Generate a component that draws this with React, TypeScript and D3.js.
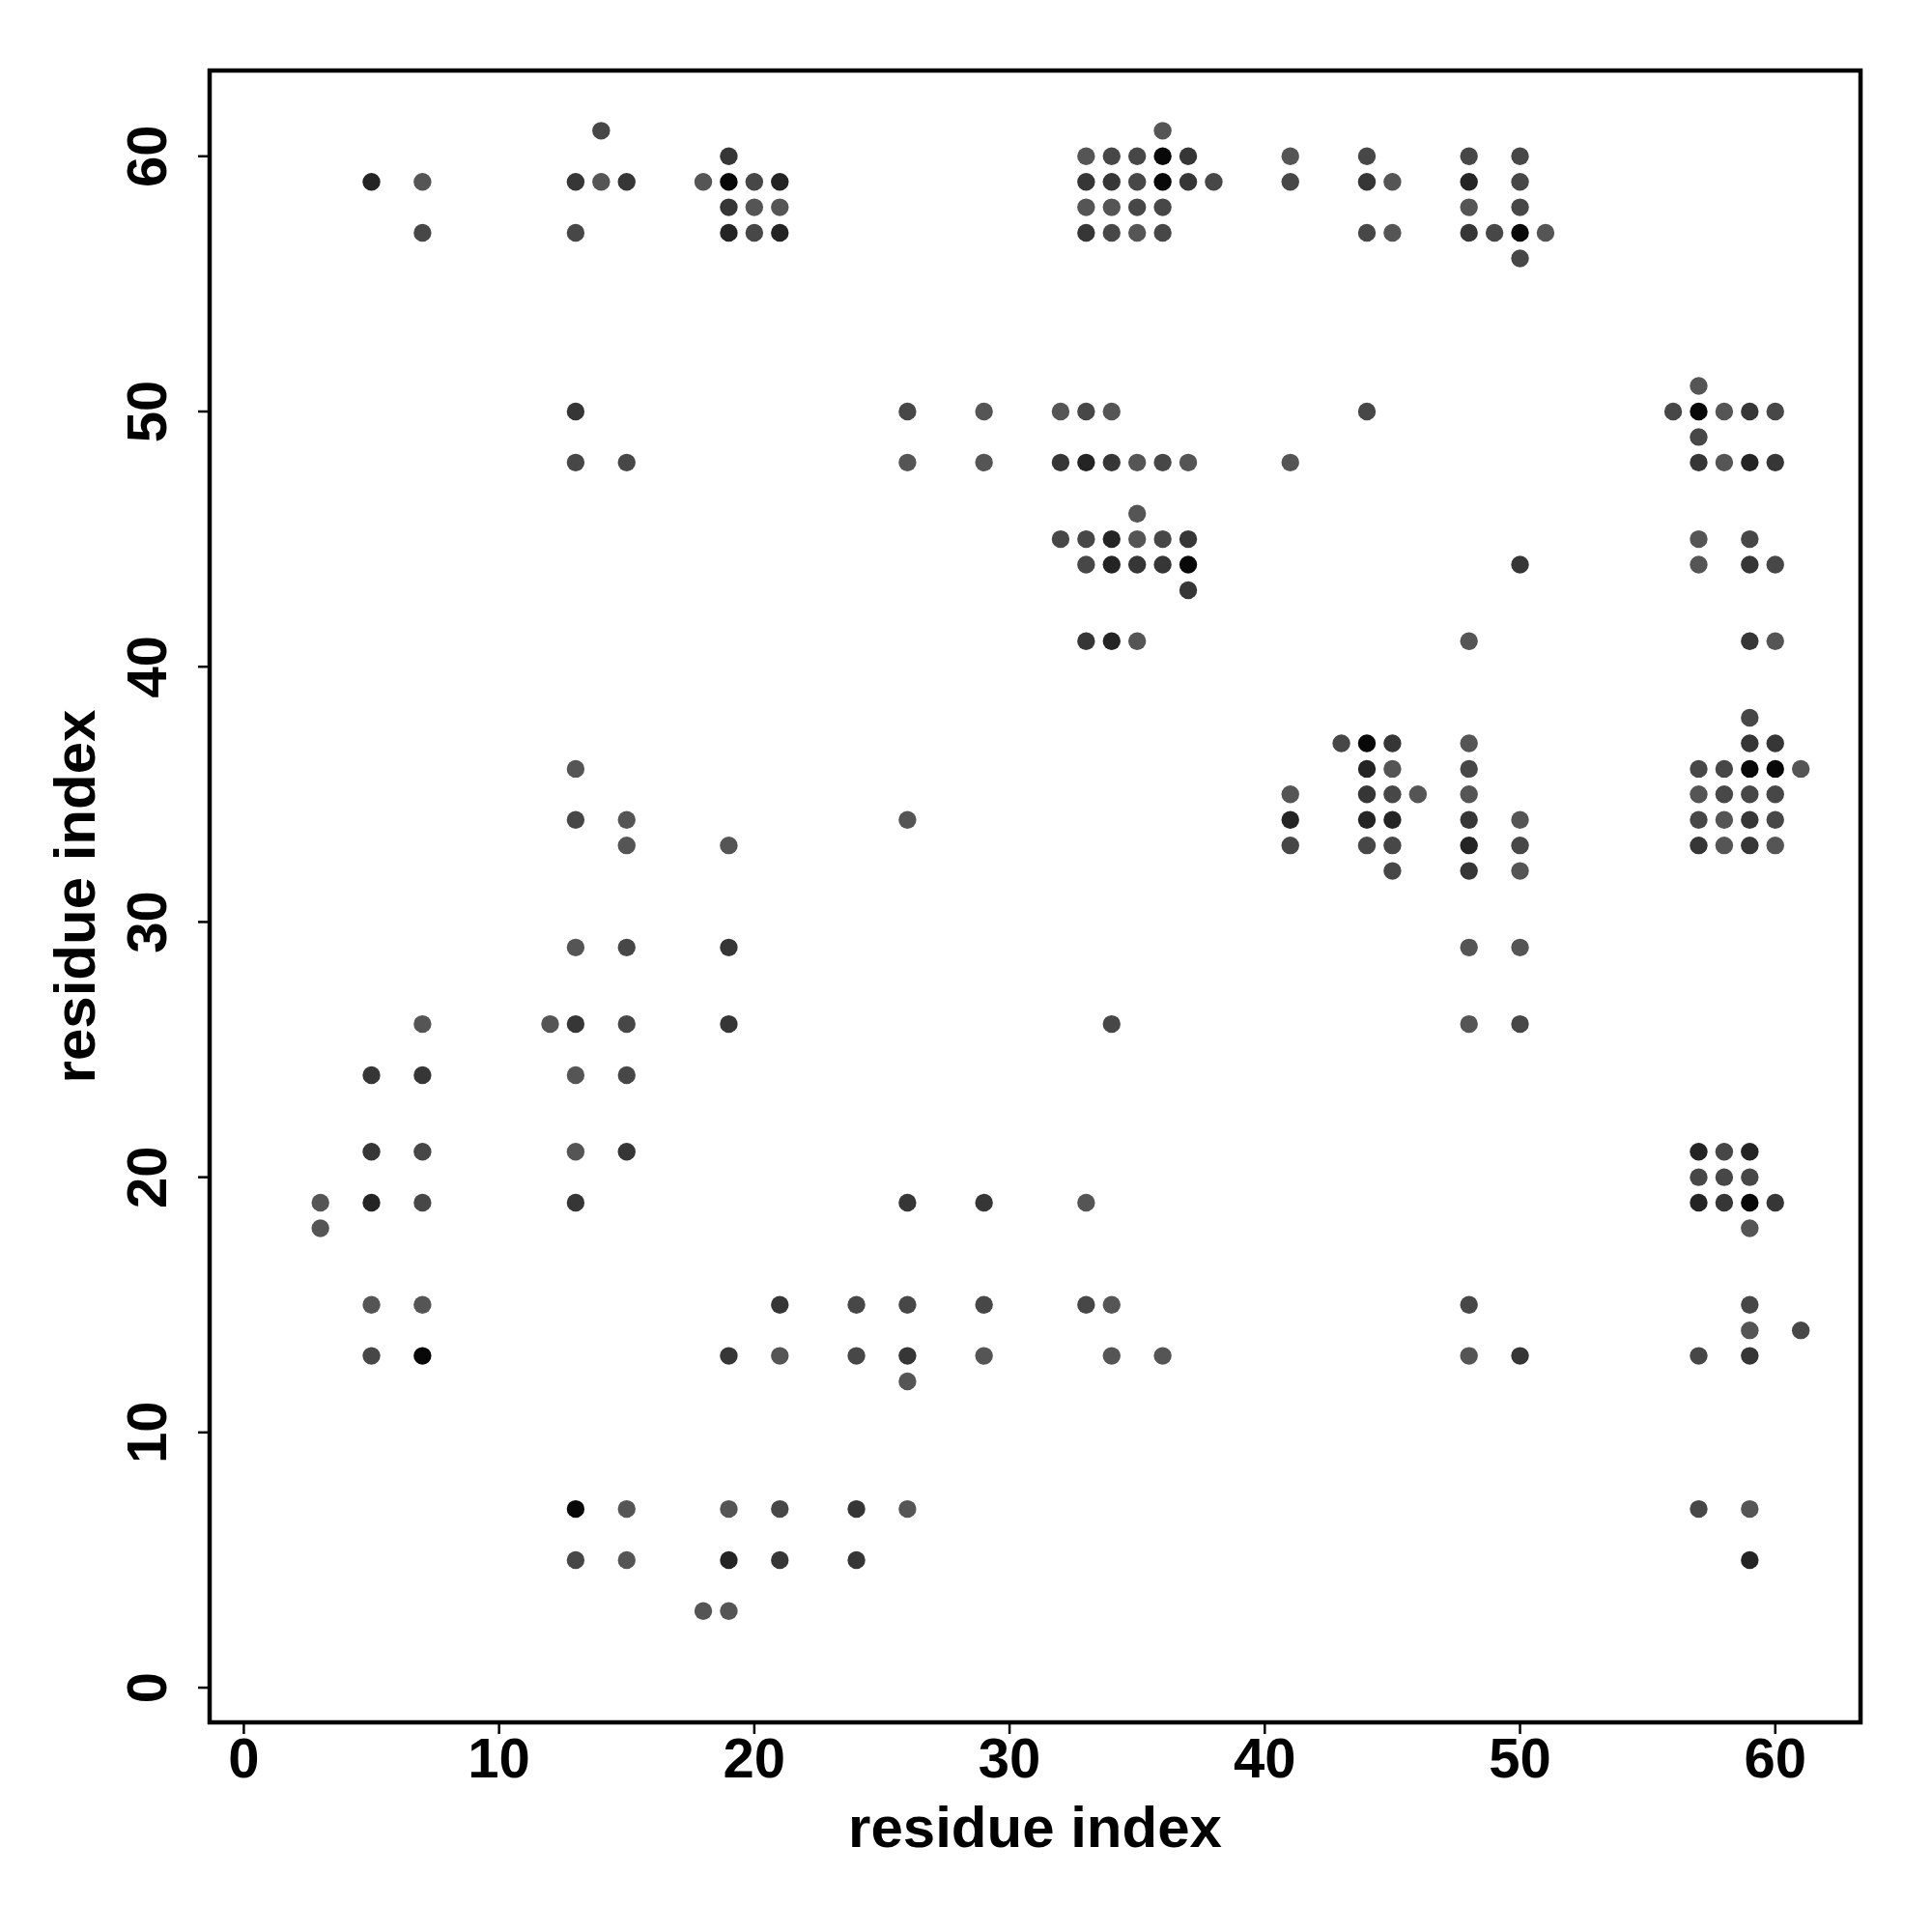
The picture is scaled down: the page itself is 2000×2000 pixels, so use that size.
import React from "react";
import * as d3 from "d3";

// contact map: for each row (residue index j), the columns (residue index i) and shade level (0 light .. 4 dark)
const contactRows = [61, 60, 59, 58, 57, 56, 51, 50, 49, 48, 46, 45, 44, 43, 41, 38, 37, 36, 35, 34, 33, 32, 29, 26, 24, 21, 20, 19, 18, 15, 14, 13, 12, 7, 5, 3];
const contactCols = [
  [14, 36],
  [19, 33, 34, 35, 36, 37, 41, 44, 48, 50],
  [5, 7, 13, 14, 15, 18, 19, 20, 21, 33, 34, 35, 36, 37, 38, 41, 44, 45, 48, 50],
  [19, 20, 21, 33, 34, 35, 36, 48, 50],
  [7, 13, 19, 20, 21, 33, 34, 35, 36, 44, 45, 48, 49, 50, 51],
  [50],
  [57],
  [13, 26, 29, 32, 33, 34, 44, 56, 57, 58, 59, 60],
  [57],
  [13, 15, 26, 29, 32, 33, 34, 35, 36, 37, 41, 57, 58, 59, 60],
  [35],
  [32, 33, 34, 35, 36, 37, 57, 59],
  [33, 34, 35, 36, 37, 50, 57, 59, 60],
  [37],
  [33, 34, 35, 48, 59, 60],
  [59],
  [43, 44, 45, 48, 59, 60],
  [13, 44, 45, 48, 57, 58, 59, 60, 61],
  [41, 44, 45, 46, 48, 57, 58, 59, 60],
  [13, 15, 26, 41, 44, 45, 48, 50, 57, 58, 59, 60],
  [15, 19, 41, 44, 45, 48, 50, 57, 58, 59, 60],
  [45, 48, 50],
  [13, 15, 19, 48, 50],
  [7, 12, 13, 15, 19, 34, 48, 50],
  [5, 7, 13, 15],
  [5, 7, 13, 15, 57, 58, 59],
  [57, 58, 59],
  [3, 5, 7, 13, 26, 29, 33, 57, 58, 59, 60],
  [3, 59],
  [5, 7, 21, 24, 26, 29, 33, 34, 48, 59],
  [59, 61],
  [5, 7, 19, 21, 24, 26, 29, 34, 36, 48, 50, 57, 59],
  [26],
  [13, 15, 19, 21, 24, 26, 57, 59],
  [13, 15, 19, 21, 24, 59],
  [18, 19],
];
const contactShades = [
  [1, 0],
  [2, 0, 1, 1, 4, 2, 0, 1, 1, 1],
  [3, 0, 2, 0, 2, 0, 4, 1, 3, 2, 2, 1, 4, 2, 1, 1, 2, 0, 3, 1],
  [2, 0, 0, 0, 0, 1, 1, 0, 1],
  [1, 1, 3, 1, 3, 2, 1, 0, 1, 1, 0, 2, 1, 4, 0],
  [1],
  [0],
  [2, 1, 0, 0, 1, 0, 1, 1, 4, 0, 2, 1],
  [1],
  [1, 1, 0, 0, 2, 3, 2, 0, 1, 0, 0, 2, 0, 3, 2],
  [0],
  [1, 1, 3, 0, 1, 2, 0, 1],
  [1, 3, 2, 2, 4, 2, 0, 2, 1],
  [2],
  [2, 3, 0, 0, 2, 0],
  [1],
  [1, 4, 2, 0, 2, 2],
  [0, 3, 0, 1, 1, 1, 4, 4, 0],
  [0, 2, 1, 0, 0, 0, 1, 1, 1],
  [1, 0, 0, 3, 3, 3, 2, 0, 1, 0, 2, 1],
  [0, 0, 1, 1, 1, 3, 1, 2, 0, 2, 0],
  [1, 2, 0],
  [0, 1, 2, 0, 0],
  [0, 0, 2, 1, 2, 1, 0, 1],
  [2, 2, 0, 1],
  [2, 1, 0, 2, 3, 1, 3],
  [1, 1, 1],
  [0, 3, 1, 2, 2, 2, 0, 3, 2, 4, 2],
  [0, 0],
  [0, 0, 2, 1, 1, 1, 1, 0, 1, 1],
  [0, 1],
  [1, 4, 2, 0, 1, 2, 0, 0, 0, 0, 2, 1, 2],
  [0],
  [4, 0, 0, 1, 2, 0, 1, 0],
  [1, 0, 3, 2, 2, 3],
  [0, 0],
];
const tickValues = [0, 10, 20, 30, 40, 50, 60];
const axisTitle = "residue index";

export default function App() {
  const left = 217, right = 1926, top = 73, bottom = 1783;
  const x = d3.scaleLinear().domain([-1.34, 63.34]).range([left, right]);
  const y = d3.scaleLinear().domain([-1.36, 63.36]).range([bottom, top]);
  const shadeColor = d3
    .scaleLinear<string>()
    .domain([0, 1, 2, 3, 4])
    .range(["#555555", "#474747", "#363636", "#242424", "#080808"]);

  const points: { i: number; j: number; s: number }[] = [];
  contactRows.forEach((row, r) => {
    contactCols[r].forEach((col, c) => {
      points.push({ i: col, j: row, s: contactShades[r][c] });
    });
  });

  const font = "'Liberation Sans', Arial, Helvetica, sans-serif";

  return (
    <svg
      width={2000}
      height={2000}
      style={{ position: "absolute", left: 0, top: 0, background: "#fff" }}
      fontFamily={font}
      fontWeight="bold"
    >
      <rect x={0} y={0} width={2000} height={2000} fill="#fff" />
      {points.map((p, k) => (
        <circle key={k} cx={x(p.i)} cy={y(p.j)} r={9.2} fill={shadeColor(p.s)} />
      ))}
      <rect
        x={left}
        y={top}
        width={right - left}
        height={bottom - top}
        fill="none"
        stroke="#000"
        strokeWidth={4.5}
      />
      {tickValues.map((t) => (
        <g key={"x" + t}>
          <line x1={x(t)} x2={x(t)} y1={bottom} y2={bottom + 12} stroke="#000" strokeWidth={2.5} />
          <text x={x(t)} y={1840} textAnchor="middle" fontSize={58} fill="#000">
            {t}
          </text>
        </g>
      ))}
      {tickValues.map((t) => (
        <g key={"y" + t}>
          <line x1={left - 12} x2={left} y1={y(t)} y2={y(t)} stroke="#000" strokeWidth={2.5} />
          <text
            transform={`translate(172,${y(t)}) rotate(-90)`}
            textAnchor="middle"
            fontSize={58}
            fill="#000"
          >
            {t}
          </text>
        </g>
      ))}
      <text x={(left + right) / 2} y={1912} textAnchor="middle" fontSize={60} fill="#000">
        {axisTitle}
      </text>
      <text
        transform={`translate(98,${(top + bottom) / 2}) rotate(-90)`}
        textAnchor="middle"
        fontSize={60}
        fill="#000"
      >
        {axisTitle}
      </text>
    </svg>
  );
}
